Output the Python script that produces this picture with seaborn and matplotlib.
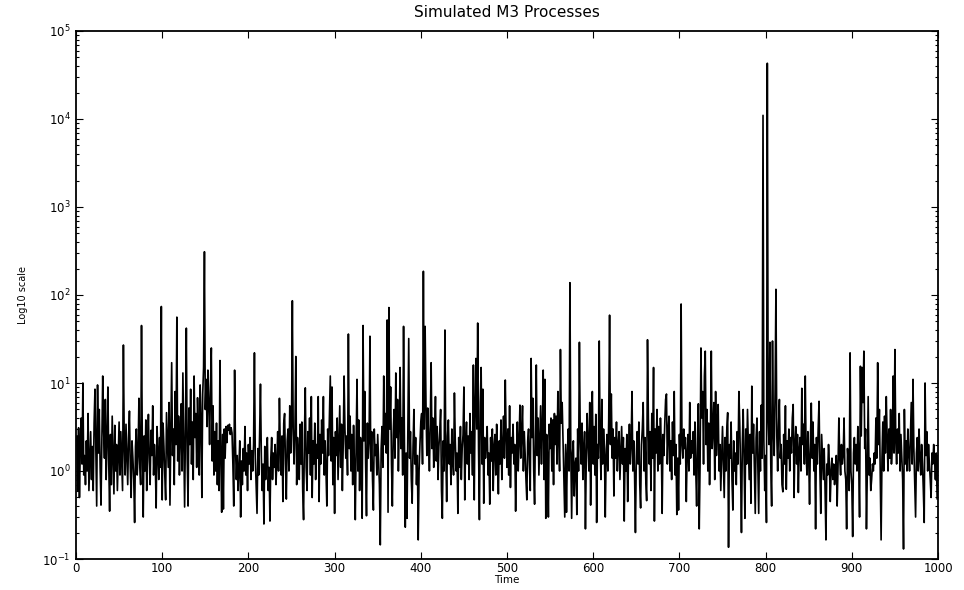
import matplotlib
matplotlib.use("Agg")
import matplotlib.pyplot as plt
import matplotlib.ticker as mticker
import numpy as np
import seaborn as sns

sns.set_style("ticks")
plt.rcParams['font.family'] = ['DejaVu Sans']
plt.rcParams['text.color'] = 'black'
plt.rcParams['axes.labelcolor'] = 'black'
plt.rcParams['xtick.color'] = 'black'
plt.rcParams['ytick.color'] = 'black'

TITLE = "Simulated M3 Processes"
X_LABEL = "Time"
Y_LABEL = "Log10 scale"
X_TICKS = [0, 100, 200, 300, 400, 500, 600, 700, 800, 900, 1000]
Y_TICKS = [1e-1, 1e0, 1e1, 1e2, 1e3, 1e4, 1e5]

# values, 25 time steps per row
m3_values = [
    2.5, 0.6, 3.1, 0.5, 1.8, 4.0, 1.2, 10, 0.9, 1.5, 0.7, 2.2, 1.0, 4.5, 0.6, 1.3, 2.8, 0.8, 1.9, 0.6, 3.5, 8.5, 2.0, 0.4, 9.5,
    1.6, 5.0, 1.1, 0.41, 2.4, 12, 3.0, 1.4, 6.5, 0.8, 2.2, 9.0, 1.2, 0.35, 2.6, 0.7, 4.2, 1.5, 0.55, 3.3, 1.0, 2.0, 0.6, 1.4, 3.6,
    0.9, 2.8, 1.3, 0.6, 27, 2.0, 0.9, 3.4, 1.6, 0.7, 2.4, 4.8, 1.1, 0.5, 2.2, 1.4, 0.8, 0.26, 1.9, 3.0, 0.9, 1.5, 6.7, 1.2, 0.7,
    45, 1.6, 0.3, 2.5, 1.0, 3.8, 0.6, 1.8, 4.4, 1.3, 0.7, 2.9, 1.5, 5.5, 0.9, 2.0, 1.2, 0.38, 3.2, 1.7, 0.8, 2.4, 1.1, 74, 0.47,
    3.5, 1.9, 0.9, 0.47, 4.6, 2.2, 1.1, 6.0, 0.41, 2.7, 17, 1.5, 3.0, 0.7, 8.0, 2.0, 56, 1.3, 4.2, 0.9, 2.5, 5.8, 1.0, 13, 2.1,
    0.39, 3.0, 42, 1.4, 0.4, 5.2, 2.0, 8.5, 1.2, 3.6, 0.8, 12, 2.4, 4.5, 1.1, 6.8, 2.8, 0.9, 9.5, 4.0, 0.5, 7.5, 15, 310, 5.0,
    11, 3.2, 14, 6.0, 2.0, 9.0, 25, 1.3, 5.5, 0.9, 2.8, 1.0, 3.5, 0.7, 2.2, 0.6, 18, 1.5, 0.34, 2.6, 0.37, 3.0, 1.4, 3.2, 2.1,
    3.3, 2.9, 3.4, 2.6, 3.1, 2.7, 1.2, 0.4, 14, 2.0, 0.8, 1.5, 0.6, 1.1, 2.2, 0.3, 1.3, 0.7, 1.8, 1.0, 3.2, 0.9, 1.6, 0.6, 2.0,
    1.2, 2.4, 0.8, 1.7, 1.0, 2.0, 22, 1.4, 0.7, 0.33, 1.8, 0.9, 2.6, 9.7, 1.5, 0.6, 1.2, 0.25, 1.9, 0.8, 1.5, 2.4, 0.6, 1.1, 0.27,
    1.4, 2.4, 0.8, 1.6, 1.1, 2.0, 0.7, 1.3, 2.8, 1.0, 6.7, 1.8, 0.9, 2.5, 0.45, 3.5, 4.5, 1.2, 0.48, 2.2, 3.0, 1.0, 5.5, 1.6, 3.2,
    86, 2.5, 1.2, 3.0, 20, 0.7, 2.4, 1.5, 0.8, 3.4, 1.2, 3.6, 0.6, 0.28, 2.5, 8.8, 1.1, 0.6, 2.8, 1.6, 4.0, 0.9, 7.0, 0.5, 2.2,
    1.2, 3.5, 0.8, 2.0, 1.4, 7.0, 0.45, 2.6, 1.2, 3.8, 1.6, 7.0, 0.9, 2.2, 1.0, 0.4, 3.0, 1.5, 4.5, 12, 1.3, 9.0, 0.7, 2.4, 0.33,
    2.8, 1.5, 4.0, 0.8, 2.2, 5.5, 1.1, 3.4, 0.6, 2.0, 12, 3.0, 1.4, 2.5, 0.9, 36, 1.8, 4.2, 1.0, 2.6, 0.7, 3.3, 1.2, 0.28, 2.0,
    11, 1.0, 3.8, 0.6, 2.4, 1.6, 0.29, 45, 2.2, 8.0, 1.2, 0.31, 3.5, 1.4, 2.2, 34, 1.0, 2.8, 0.8, 0.36, 3.0, 1.5, 2.0, 0.9, 2.6,
    1.3, 0.7, 0.145, 1.8, 3.2, 1.1, 12, 2.0, 4.5, 1.6, 52, 0.34, 72, 3.0, 9.0, 1.2, 0.4, 2.6, 5.0, 1.4, 13, 2.4, 6.5, 1.0, 3.4,
    15, 1.8, 4.0, 0.9, 44, 2.2, 0.23, 1.6, 0.29, 3.5, 32, 1.4, 2.8, 0.8, 0.43, 1.9, 5.0, 1.2, 2.4, 0.7, 1.5, 0.165, 1.0, 2.0, 3.6,
    4.5, 1.2, 186, 3.0, 44, 6.0, 1.5, 5.2, 2.4, 1.0, 3.5, 17, 1.8, 4.0, 1.1, 2.6, 7.0, 1.3, 3.2, 0.8, 1.9, 2.8, 5.0, 0.6, 0.29,
    2.2, 1.0, 40, 1.6, 0.45, 2.5, 3.8, 1.2, 2.0, 0.7, 3.0, 1.4, 0.9, 7.7, 2.2, 1.0, 1.6, 0.33, 2.4, 1.1, 3.2, 0.8, 1.8, 2.6, 9.0,
    0.47, 2.0, 3.6, 1.2, 2.5, 0.8, 4.5, 1.6, 2.8, 0.9, 16, 0.47, 5.5, 19, 3.0, 48, 1.8, 0.28, 6.0, 15, 1.2, 8.5, 0.43, 2.4, 1.4,
    2.0, 3.2, 0.9, 1.6, 0.42, 2.4, 1.3, 3.0, 0.6, 1.9, 2.6, 0.9, 3.4, 1.5, 0.55, 2.2, 1.2, 3.8, 0.8, 2.0, 4.2, 1.4, 10.8, 2.5, 1.1,
    3.0, 0.9, 5.5, 0.65, 2.4, 1.6, 3.4, 1.2, 2.0, 0.35, 1.5, 3.6, 1.0, 2.2, 5.6, 1.4, 2.6, 5.5, 1.0, 2.8, 1.6, 0.8, 0.47, 2.2, 3.0,
    1.2, 0.6, 19, 2.4, 6.7, 1.0, 0.42, 3.2, 16, 1.5, 4.0, 0.9, 2.2, 5.5, 1.2, 3.0, 14, 0.8, 11, 0.29, 2.6, 1.4, 0.3, 3.4, 1.8,
    4.0, 1.0, 3.8, 0.7, 4.5, 2.0, 4.2, 1.2, 8.0, 2.5, 1.0, 24, 3.5, 6.0, 2.2, 0.8, 0.3, 2.0, 0.34, 1.5, 3.0, 1.0, 138, 1.8, 0.29,
    1.6, 2.2, 0.52, 1.2, 1.4, 0.32, 3.0, 1.0, 29, 2.4, 1.2, 3.5, 0.8, 1.6, 2.8, 0.22, 1.5, 4.5, 2.0, 1.0, 6.0, 0.41, 2.6, 8.0, 1.2,
    3.2, 0.9, 4.4, 0.26, 2.0, 1.4, 30, 2.2, 0.8, 6.5, 1.2, 3.0, 1.8, 0.3, 1.5, 2.6, 1.0, 3.8, 59, 2.0, 7.5, 1.4, 3.0, 0.52, 2.4,
    1.4, 3.6, 1.0, 2.0, 2.8, 0.8, 1.6, 3.2, 1.2, 2.4, 0.27, 1.8, 1.0, 2.6, 0.45, 1.5, 3.4, 1.2, 2.0, 8.0, 1.0, 2.2, 0.9, 0.2, 1.4,
    2.8, 1.2, 3.6, 0.7, 0.38, 2.0, 3.0, 6.0, 1.0, 2.4, 0.8, 0.46, 31, 4.0, 1.2, 2.8, 0.6, 4.5, 1.4, 15, 0.27, 3.0, 1.6, 5.0, 1.0,
    3.2, 1.2, 4.0, 2.0, 0.33, 2.6, 1.5, 3.4, 6.5, 7.5, 1.2, 2.8, 4.2, 1.0, 2.2, 0.8, 3.6, 1.5, 8.0, 0.9, 2.0, 0.32, 1.4, 0.36, 2.6,
    1.2, 79, 2.0, 1.4, 3.0, 1.8, 2.4, 0.45, 1.6, 2.6, 1.0, 6.0, 1.4, 2.2, 1.6, 2.8, 0.9, 3.6, 1.0, 0.4, 2.4, 5.8, 0.22, 1.2, 25,
    4.0, 8.0, 1.2, 12, 23, 2.0, 5.0, 1.0, 3.5, 0.7, 2.6, 23, 1.8, 3.0, 6.0, 0.8, 8.0, 1.5, 3.2, 5.7, 1.0, 2.0, 0.6, 1.4, 3.2,
    1.2, 0.5, 2.4, 1.0, 3.0, 4.6, 0.136, 2.0, 1.4, 3.6, 0.8, 0.36, 2.2, 1.0, 1.6, 0.7, 2.8, 1.2, 8.0, 3.5, 1.0, 0.2, 2.0, 5.0, 1.4,
    0.29, 3.0, 1.2, 5.0, 2.0, 0.8, 2.6, 0.43, 9.2, 1.6, 3.4, 1.0, 0.33, 2.4, 4.0, 1.2, 0.33, 2.8, 1.0, 5.6, 1.4, 11000, 2.2, 0.6, 1.5,
    0.26, 43000, 4.0, 2.0, 29, 1.2, 0.4, 30, 3.0, 1.5, 8.0, 116, 2.5, 1.0, 3.2, 6.5, 1.4, 2.0, 0.7, 0.58, 2.6, 1.2, 5.5, 0.62, 2.2,
    1.4, 3.0, 1.0, 2.4, 1.6, 4.0, 5.7, 0.5, 2.0, 3.2, 1.2, 2.6, 0.57, 1.8, 2.4, 1.0, 8.7, 2.0, 3.4, 1.2, 12, 1.6, 0.9, 2.8, 1.4,
    0.42, 2.2, 5.9, 1.4, 3.6, 1.0, 2.0, 0.22, 2.4, 1.2, 3.0, 6.2, 1.0, 0.33, 2.6, 1.4, 0.8, 1.8, 0.6, 0.165, 1.2, 0.9, 2.0, 1.2, 0.45,
    1.0, 1.4, 0.8, 1.2, 0.7, 1.0, 1.5, 0.4, 1.1, 4.0, 1.4, 0.9, 2.0, 1.2, 1.5, 4.0, 1.0, 0.8, 0.22, 1.8, 1.2, 0.6, 22, 1.0, 0.7,
    0.18, 1.6, 2.4, 1.2, 2.0, 1.0, 3.2, 1.4, 0.3, 15.5, 2.5, 15, 6.0, 23, 1.8, 3.0, 0.22, 1.0, 7.0, 0.9, 1.4, 0.6, 0.8, 1.2, 1.0,
    1.6, 1.2, 4.0, 1.4, 17, 2.0, 5.0, 1.0, 0.165, 1.4, 3.6, 1.0, 4.2, 1.6, 7.0, 2.4, 1.0, 3.0, 1.4, 5.0, 1.2, 2.0, 12, 1.6, 24,
    2.2, 1.2, 3.0, 1.6, 4.5, 1.0, 2.6, 1.4, 0.8, 0.13, 5.0, 1.2, 2.2, 1.0, 3.0, 1.6, 1.0, 2.4, 6.0, 1.2, 11, 1.8, 0.7, 0.3, 1.6,
    2.4, 1.0, 3.0, 1.4, 0.9, 2.0, 1.2, 0.6, 0.26, 10, 1.5, 2.8, 1.0, 2.0, 1.2, 0.8, 0.5, 1.6, 1.2, 2.0, 1.4, 0.8, 1.6, 0.48, 1.5,
]
time_steps = np.arange(1, len(m3_values) + 1)

fig = plt.figure(figsize=(9.64, 5.90), dpi=100)
ax = fig.add_axes([76 / 964, 1 - 559 / 590, (938 - 76) / 964, (559 - 31) / 590])

sns.lineplot(x=time_steps, y=m3_values, color='black', linewidth=1.2, ax=ax)

ax.set_yscale('log')
ax.set_xlim(0, 1000)
ax.set_ylim(1e-1, 1e5)
ax.set_xticks(X_TICKS)
ax.set_yticks(Y_TICKS)
ax.yaxis.set_minor_locator(mticker.LogLocator(base=10, subs=np.arange(2, 10), numticks=20))
ax.yaxis.set_minor_formatter(mticker.NullFormatter())

ax.tick_params(which='both', direction='in', top=True, right=True, labelsize=8.5, width=0.8)
ax.tick_params(which='major', length=5)
ax.tick_params(which='minor', length=2.5)
ax.tick_params(axis='x', pad=2)
ax.tick_params(axis='y', pad=4)
for side in ax.spines.values():
    side.set_linewidth(1.3)
    side.set_color('black')
    side.set_visible(True)

ax.set_title(TITLE, fontsize=11, pad=10)
ax.set_xlabel(X_LABEL, fontsize=7.5, labelpad=0.5)
ax.set_ylabel(Y_LABEL, fontsize=7, labelpad=10)

fig.savefig("out.png", dpi=100)
